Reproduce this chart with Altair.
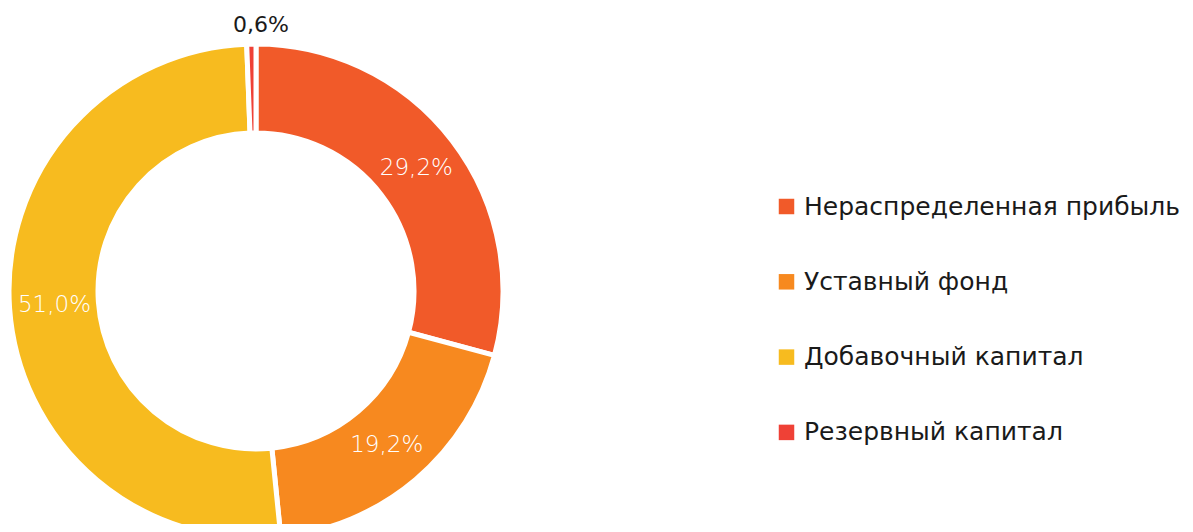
import altair as alt
import pandas as pd

categories = ["Нераспределенная прибыль", "Уставный фонд", "Добавочный капитал", "Резервный капитал"]
values = [29.2, 19.2, 51.0, 0.6]
colors = ["#F15A29", "#F7891F", "#F7BB1F", "#EF4136"]

df = pd.DataFrame({"category": categories, "value": values, "order": list(range(len(categories)))})

FONT = "DejaVu Sans"

base = alt.Chart(df).transform_calculate(
    label="replace(format(datum.value, '.1f'), '.', ',') + '%'",
    r="datum.value < 5 ? 266 : 202",
).encode(
    theta=alt.Theta("value:Q", stack=True),
    order=alt.Order("order:Q"),
    x=alt.value(248),
    y=alt.value(283),
)

arcs = base.mark_arc(radius=247, radius2=158, stroke="white", strokeWidth=5).encode(
    color=alt.Color(
        "category:N",
        scale=alt.Scale(domain=categories, range=colors),
        sort=categories,
        legend=alt.Legend(
            title=None,
            orient="none",
            legendX=766,
            legendY=186,
            symbolType="square",
            symbolSize=240,
            symbolStrokeWidth=0,
            labelFont=FONT,
            labelFontSize=25,
            labelColor="#1a1a1a",
            labelLimit=600,
            rowPadding=49.3,
            labelOffset=5,
        ),
    )
)

inner_labels = base.mark_text(
    font=FONT, fontSize=23, fontWeight=300, baseline="middle", align="center", color="white"
).encode(
    text="label:N",
    radius=alt.Radius("r:Q", scale=None),
    opacity=alt.condition("datum.value < 5", alt.value(0), alt.value(1)),
)

outer_labels = base.mark_text(
    font=FONT, fontSize=22, fontWeight="normal", baseline="middle", align="center", color="#1a1a1a"
).encode(
    text="label:N",
    radius=alt.Radius("r:Q", scale=None),
    opacity=alt.condition("datum.value < 5", alt.value(1), alt.value(0)),
)

chart = alt.layer(arcs, inner_labels, outer_labels).properties(
    width=1177, height=516, autosize=alt.AutoSizeParams(type="none"), padding=0
).configure_view(stroke=None)

chart.save("out.html", embed_options={"renderer": "svg", "actions": False})
